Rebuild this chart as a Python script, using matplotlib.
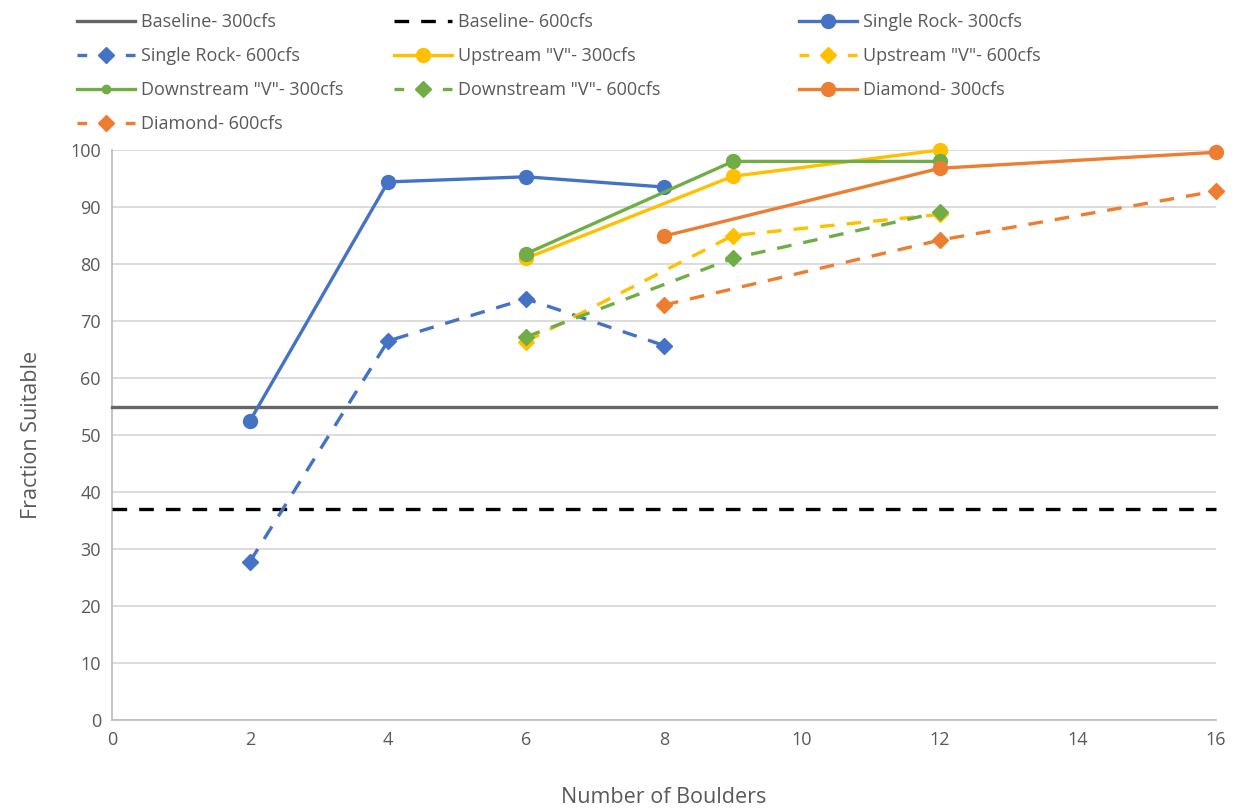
import matplotlib
matplotlib.use('Agg')
import matplotlib.pyplot as plt
from matplotlib.lines import Line2D

font = {'family': ['Open Sans', 'DejaVu Sans'],
        'weight': 'normal',
        'size': 12}
matplotlib.rc('font', **font)

# data
baseline_x = [0, 16]
baseline_300 = [54.9, 54.9]
baseline_600 = [37.0, 37.0]

single_x = [2, 4, 6, 8]
single_300 = [52.5, 94.4, 95.3, 93.5]
single_600 = [27.8, 66.5, 73.9, 65.7]

v_x = [6, 9, 12]
up_300 = [81.0, 95.4, 100.0]
up_600 = [66.4, 85.0, 88.7]
down_300 = [81.8, 98.0, 98.0]
down_600 = [67.2, 81.0, 89.1]

diamond_x = [8, 12, 16]
diamond_300 = [84.9, 96.8, 99.6]
diamond_600 = [72.8, 84.2, 92.8]

x_ticks = list(range(0, 17, 2))
y_ticks = list(range(0, 101, 10))

blue = '#4472C4'
orange = '#ED7D31'
gold = '#FFC000'
green = '#70AD47'
grey = '#595959'

fig = plt.figure(figsize=(12.34, 8.11), dpi=100)
ax = fig.add_axes([112 / 1234, 91 / 811, (1216 - 112) / 1234, (720 - 150) / 811])

lw = 2.4
dash = (0, (4.4, 3.6))
leg_dash = (1.5, (4.4, 3.6))
series = [
    (baseline_x, baseline_300, '#666666', '-', None, 0, 'Baseline- 300cfs'),
    (baseline_x, baseline_600, 'black', dash, None, 0, 'Baseline- 600cfs'),
    (single_x, single_300, blue, '-', 'o', 10, 'Single Rock- 300cfs'),
    (single_x, single_600, blue, dash, 'D', 8.5, 'Single Rock- 600cfs'),
    (v_x, up_300, gold, '-', 'o', 10, 'Upstream "V"- 300cfs'),
    (v_x, up_600, gold, dash, 'D', 8.5, 'Upstream "V"- 600cfs'),
    (v_x, down_300, green, '-', 'o', 10, 'Downstream "V"- 300cfs'),
    (v_x, down_600, green, dash, 'D', 8.5, 'Downstream "V"- 600cfs'),
    (diamond_x, diamond_300, orange, '-', 'o', 10, 'Diamond- 300cfs'),
    (diamond_x, diamond_600, orange, dash, 'D', 8.5, 'Diamond- 600cfs'),
]

handles = []
for x, y, c, ls, m, ms, lab in series:
    ax.plot(x, y, color=c, linestyle=ls, linewidth=lw, marker=m, markersize=ms,
            clip_on=False, zorder=3)
    leg_ms = 6 if lab.startswith('Downstream "V"- 300') else ms
    leg_ls = leg_dash if ls == dash and m is not None else ls
    handles.append(Line2D([], [], color=c, linestyle=leg_ls, linewidth=lw, marker=m,
                          markersize=leg_ms, label=lab))

ax.set_xlim(0, 16)
ax.set_ylim(0, 100)
ax.set_xticks(x_ticks)
ax.set_yticks(y_ticks)
ax.grid(axis='y', color='#d9d9d9', linewidth=1.3, zorder=0)
ax.set_axisbelow(True)
for s in ['top', 'right']:
    ax.spines[s].set_visible(False)
ax.spines['left'].set_color('#bfbfbf')
ax.spines['bottom'].set_color('#bfbfbf')
ax.spines['left'].set_linewidth(1.3)
ax.spines['bottom'].set_linewidth(1.3)
ax.tick_params(length=0, labelsize=13, labelcolor=grey, pad=8)
ax.set_xlabel('Number of Boulders', fontsize=15.5, color=grey, labelpad=27)
ax.set_ylabel('Fraction Suitable', fontsize=15.5, color=grey, labelpad=20)

# legend laid out row by row like the original, one legend per column
col_x = [70 / 1234, 387 / 1234, 792 / 1234]
cols = [handles[0::3], handles[1::3], handles[2::3]]
for cx, hs in zip(col_x, cols):
    fig.legend(handles=hs, loc='upper left', bbox_to_anchor=(cx, 1 - 6 / 811),
               frameon=False, fontsize=13, handlelength=3.2, handletextpad=0.35,
               labelspacing=0.88, labelcolor=grey, borderaxespad=0)

fig.savefig('out.png', dpi=100)
